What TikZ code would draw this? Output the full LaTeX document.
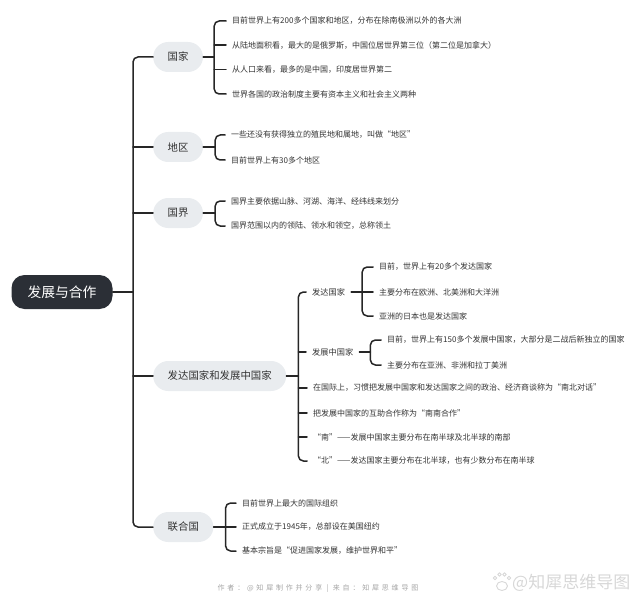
\documentclass[tikz,border=0pt]{standalone}
\usepackage{fontspec}
\setmainfont{Noto Sans CJK SC}
\usepackage{tikz}
\usetikzlibrary{positioning}
\definecolor{mmdark}{RGB}{43,47,54}
\definecolor{mmpale}{RGB}{233,236,239}
\definecolor{mmink}{RGB}{51,51,51}
\definecolor{mmline}{RGB}{38,38,38}
\definecolor{mmfoot}{RGB}{165,165,165}
\definecolor{mmmark}{RGB}{215,215,215}
\tikzset{
  mmbase/.style={x=1pt,y=-1pt,line cap=round,line join=round},
  mmroot/.style={fill=mmdark,text=white,rounded corners=13pt,minimum height=34pt,inner xsep=16pt,font=\fontsize{13.8}{16}\selectfont},
  mmtopic/.style={anchor=west,fill=mmpale,text=mmink,rounded corners=15pt,minimum height=30pt,inner xsep=14.5pt,font=\fontsize{10.4}{12}\selectfont},
  mmsub/.style={anchor=west,text=mmink,inner xsep=6pt,inner ysep=1pt,font=\fontsize{8.2}{10}\selectfont},
  mmleaf/.style={anchor=west,text=mmink,inner xsep=6pt,inner ysep=1pt,font=\fontsize{8}{10}\selectfont},
  mmlink/.style={draw=mmline,line width=1.5pt,rounded corners=5pt},
  mmfooter/.style={text=mmfoot,font=\fontsize{7}{8}\selectfont\addfontfeature{LetterSpace=40}},
  mmwater/.style={anchor=west,text=mmmark,inner sep=0pt,font=\fontsize{17}{18}\selectfont}
}

\begin{document}
\begin{tikzpicture}[mmbase]
\useasboundingbox (0,0) rectangle (640,607);
% root and first level
\node[mmroot] (root) at (62,292) {发展与合作};
\node[mmtopic] (guojia) at (153,57) {国家};
\node[mmtopic] (diqu) at (153,147) {地区};
\node[mmtopic] (guojie) at (153,213) {国界};
\node[mmtopic] (fazhan) at (153,376) {发达国家和发展中国家};
\node[mmtopic] (lhg) at (153,527) {联合国};
\coordinate (hub) at (133,292);
\draw[mmlink] (root.east) -- (hub);
\draw[mmlink] (hub) |- (guojia.west);
\draw[mmlink] (hub) |- (lhg.west);
\foreach \t in {diqu,guojie,fazhan}
  \draw[mmlink] (hub |- \t.west) -- (\t.west);

% 国家
\node[mmleaf] (gj1) at (226,21) {目前世界上有200多个国家和地区，分布在除南极洲以外的各大洲};
\node[mmleaf] (gj2) at (226,45) {从陆地面积看，最大的是俄罗斯，中国位居世界第三位（第二位是加拿大）};
\node[mmleaf] (gj3) at (226,69.5) {从人口来看，最多的是中国，印度居世界第二};
\node[mmleaf] (gj4) at (226,94) {世界各国的政治制度主要有资本主义和社会主义两种};
\draw[mmlink] (guojia.east) -- ++(11,0) coordinate (gjb);
\draw[mmlink] (gjb) |- (gj1.west);
\draw[mmlink] (gjb) |- (gj4.west);
\draw[mmlink] (gjb |- gj2.west) -- (gj2.west);
\draw[mmlink] (gjb |- gj3.west) -- (gj3.west);

% 地区
\node[mmleaf] (dq1) at (225,135) {一些还没有获得独立的殖民地和属地，叫做“地区”};
\node[mmleaf] (dq2) at (225,160) {目前世界上有30多个地区};
\draw[mmlink] (diqu.east) -- ++(12,0) coordinate (dqb);
\draw[mmlink] (dqb) |- (dq1.west);
\draw[mmlink] (dqb) |- (dq2.west);

% 国界
\node[mmleaf] (gq1) at (225,201) {国界主要依据山脉、河湖、海洋、经纬线来划分};
\node[mmleaf] (gq2) at (225,226) {国界范围以内的领陆、领水和领空，总称领土};
\draw[mmlink] (guojie.east) -- ++(12,0) coordinate (gqb);
\draw[mmlink] (gqb) |- (gq1.west);
\draw[mmlink] (gqb) |- (gq2.west);

% 发达国家和发展中国家
\node[mmsub] (fd) at (306,292) {发达国家};
\node[mmsub] (fzz) at (306,352) {发展中国家};
\node[mmleaf] (fz3) at (307,388) {在国际上，习惯把发展中国家和发达国家之间的政治、经济商谈称为“南北对话”};
\node[mmleaf] (fz4) at (307,413) {把发展中国家的互助合作称为“南南合作”};
\node[mmleaf] (fz5) at (307,437) {“南”——发展中国家主要分布在南半球及北半球的南部};
\node[mmleaf] (fz6) at (307,461) {“北”——发达国家主要分布在北半球，也有少数分布在南半球};
\draw[mmlink] (fazhan.east) -- ++(12,0) coordinate (fzb);
\draw[mmlink] (fzb) |- (fd.west);
\draw[mmlink] (fzb) |- (fz6.west);
\foreach \t in {fzz,fz3,fz4,fz5}
  \draw[mmlink] (fzb |- \t.west) -- (\t.west);

\node[mmleaf] (fd1) at (373,267) {目前，世界上有20多个发达国家};
\node[mmleaf] (fd2) at (373,292) {主要分布在欧洲、北美洲和大洋洲};
\node[mmleaf] (fd3) at (373,316) {亚洲的日本也是发达国家};
\draw[mmlink] (fd.east) -- ++(11,0) coordinate (fdb);
\draw[mmlink] (fdb) |- (fd1.west);
\draw[mmlink] (fdb) |- (fd3.west);
\draw[mmlink] (fdb) -- (fd2.west);

\node[mmleaf] (fzz1) at (381,340) {目前，世界上有150多个发展中国家，大部分是二战后新独立的国家};
\node[mmleaf] (fzz2) at (381,365) {主要分布在亚洲、非洲和拉丁美洲};
\draw[mmlink] (fzz.east) -- ++(11,0) coordinate (fzzb);
\draw[mmlink] (fzzb) |- (fzz1.west);
\draw[mmlink] (fzzb) |- (fzz2.west);

% 联合国
\node[mmleaf] (lh1) at (236,503) {目前世界上最大的国际组织};
\node[mmleaf] (lh2) at (236,527) {正式成立于1945年，总部设在美国纽约};
\node[mmleaf] (lh3) at (236,551) {基本宗旨是“促进国家发展，维护世界和平”};
\draw[mmlink] (lhg.east) -- ++(12,0) coordinate (lhb);
\draw[mmlink] (lhb) |- (lh1.west);
\draw[mmlink] (lhb) |- (lh3.west);
\draw[mmlink] (lhb) -- (lh2.west);

% footer and mark
\node[mmfooter] (foot) at (318,589) {作者：@知犀制作并分享 | 来自：知犀思维导图};
\begin{scope}[draw=mmmark,line width=.9pt]
  \draw (495,578) circle (1.8);
  \draw (499.5,574.5) circle (1.8);
  \draw (504.5,574.5) circle (1.8);
  \draw (509,578) circle (1.8);
  \draw (502,586) ellipse (5.5 and 4.5);
\end{scope}
\node[mmwater] (mark) at (512,583) {@知犀思维导图};
\end{tikzpicture}
\end{document}
